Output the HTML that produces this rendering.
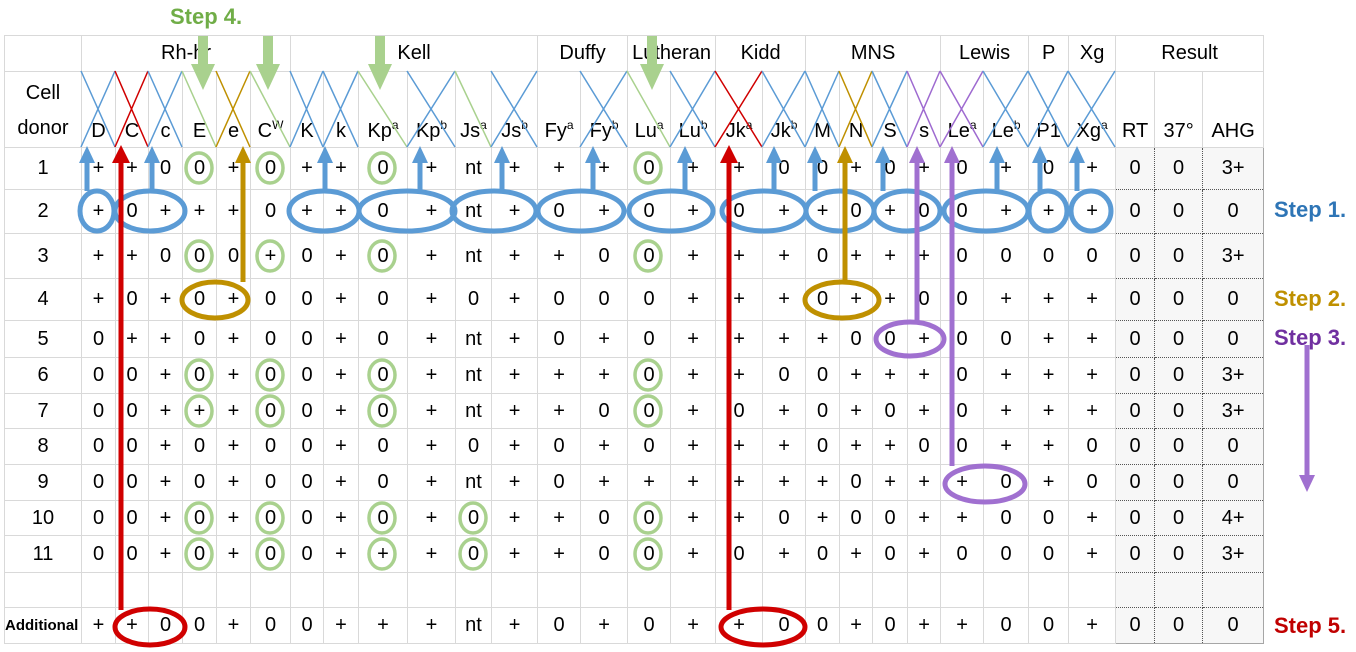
<!DOCTYPE html>
<html><head><meta charset="utf-8">
<style>
html,body{margin:0;padding:0;background:#fff;}
body{width:1356px;height:652px;position:relative;overflow:hidden;font-family:"Liberation Sans",sans-serif;}
table{position:absolute;left:4px;top:35px;border-collapse:collapse;table-layout:fixed;width:1259px;border:1px solid #a6a6a6;}
td{border:1px solid #d9d9d9;text-align:center;vertical-align:middle;font-size:20px;color:#000;padding:0;white-space:nowrap;overflow:visible;}
td.r{background:#f7f7f7;border:1px dotted #555;}
tr.h2 td{vertical-align:bottom;padding-bottom:4px;}
sup{font-size:12px;vertical-align:top;position:relative;top:-2px;}
.add{font-size:15px;font-weight:bold;text-align:left;}
svg{position:absolute;left:0;top:0;}
.st{position:absolute;font-weight:bold;font-size:22px;}
</style></head><body>
<table>
<colgroup>
<col style="width:77px"><col style="width:34px"><col style="width:33px"><col style="width:34px"><col style="width:34px"><col style="width:34px"><col style="width:40px"><col style="width:33px"><col style="width:35px"><col style="width:49px"><col style="width:48px"><col style="width:36px"><col style="width:46px"><col style="width:43px"><col style="width:47px"><col style="width:43px"><col style="width:45px"><col style="width:47px"><col style="width:43px"><col style="width:34px"><col style="width:33px"><col style="width:35px"><col style="width:33px"><col style="width:43px"><col style="width:45px"><col style="width:40px"><col style="width:47px"><col style="width:39px"><col style="width:48px"><col style="width:61px">
</colgroup>
<tr style="height:36px"><td></td><td colspan="6">Rh-hr</td><td colspan="6">Kell</td><td colspan="2">Duffy</td><td colspan="2">Lutheran</td><td colspan="2">Kidd</td><td colspan="4">MNS</td><td colspan="2">Lewis</td><td>P</td><td>Xg</td><td colspan="3">Result</td></tr>
<tr class="h2" style="height:76px"><td style="line-height:35px;padding-bottom:1px">Cell<br>donor</td><td>D</td><td>C</td><td>c</td><td>E</td><td>e</td><td>C<sup>W</sup></td><td>K</td><td>k</td><td>Kp<sup>a</sup></td><td>Kp<sup>b</sup></td><td>Js<sup>a</sup></td><td>Js<sup>b</sup></td><td>Fy<sup>a</sup></td><td>Fy<sup>b</sup></td><td>Lu<sup>a</sup></td><td>Lu<sup>b</sup></td><td>Jk<sup>a</sup></td><td>Jk<sup>b</sup></td><td>M</td><td>N</td><td>S</td><td>s</td><td>Le<sup>a</sup></td><td>Le<sup>b</sup></td><td>P1</td><td>Xg<sup>a</sup></td><td>RT</td><td>37°</td><td>AHG</td></tr>
<tr style="height:42px"><td>1</td><td>+</td><td>+</td><td>0</td><td>0</td><td>+</td><td>0</td><td>+</td><td>+</td><td>0</td><td>+</td><td>nt</td><td>+</td><td>+</td><td>+</td><td>0</td><td>+</td><td>+</td><td>0</td><td>0</td><td>+</td><td>0</td><td>+</td><td>0</td><td>+</td><td>0</td><td>+</td><td class="r">0</td><td class="r">0</td><td class="r">3+</td></tr>
<tr style="height:44px"><td>2</td><td>+</td><td>0</td><td>+</td><td>+</td><td>+</td><td>0</td><td>+</td><td>+</td><td>0</td><td>+</td><td>nt</td><td>+</td><td>0</td><td>+</td><td>0</td><td>+</td><td>0</td><td>+</td><td>+</td><td>0</td><td>+</td><td>0</td><td>0</td><td>+</td><td>+</td><td>+</td><td class="r">0</td><td class="r">0</td><td class="r">0</td></tr>
<tr style="height:45px"><td>3</td><td>+</td><td>+</td><td>0</td><td>0</td><td>0</td><td>+</td><td>0</td><td>+</td><td>0</td><td>+</td><td>nt</td><td>+</td><td>+</td><td>0</td><td>0</td><td>+</td><td>+</td><td>+</td><td>0</td><td>+</td><td>+</td><td>+</td><td>0</td><td>0</td><td>0</td><td>0</td><td class="r">0</td><td class="r">0</td><td class="r">3+</td></tr>
<tr style="height:42px"><td>4</td><td>+</td><td>0</td><td>+</td><td>0</td><td>+</td><td>0</td><td>0</td><td>+</td><td>0</td><td>+</td><td>0</td><td>+</td><td>0</td><td>0</td><td>0</td><td>+</td><td>+</td><td>+</td><td>0</td><td>+</td><td>+</td><td>0</td><td>0</td><td>+</td><td>+</td><td>+</td><td class="r">0</td><td class="r">0</td><td class="r">0</td></tr>
<tr style="height:37px"><td>5</td><td>0</td><td>+</td><td>+</td><td>0</td><td>+</td><td>0</td><td>0</td><td>+</td><td>0</td><td>+</td><td>nt</td><td>+</td><td>0</td><td>+</td><td>0</td><td>+</td><td>+</td><td>+</td><td>+</td><td>0</td><td>0</td><td>+</td><td>0</td><td>0</td><td>+</td><td>+</td><td class="r">0</td><td class="r">0</td><td class="r">0</td></tr>
<tr style="height:36px"><td>6</td><td>0</td><td>0</td><td>+</td><td>0</td><td>+</td><td>0</td><td>0</td><td>+</td><td>0</td><td>+</td><td>nt</td><td>+</td><td>+</td><td>+</td><td>0</td><td>+</td><td>+</td><td>0</td><td>0</td><td>+</td><td>+</td><td>+</td><td>0</td><td>+</td><td>+</td><td>+</td><td class="r">0</td><td class="r">0</td><td class="r">3+</td></tr>
<tr style="height:35px"><td>7</td><td>0</td><td>0</td><td>+</td><td>+</td><td>+</td><td>0</td><td>0</td><td>+</td><td>0</td><td>+</td><td>nt</td><td>+</td><td>+</td><td>0</td><td>0</td><td>+</td><td>0</td><td>+</td><td>0</td><td>+</td><td>0</td><td>+</td><td>0</td><td>+</td><td>+</td><td>+</td><td class="r">0</td><td class="r">0</td><td class="r">3+</td></tr>
<tr style="height:36px"><td>8</td><td>0</td><td>0</td><td>+</td><td>0</td><td>+</td><td>0</td><td>0</td><td>+</td><td>0</td><td>+</td><td>0</td><td>+</td><td>0</td><td>+</td><td>0</td><td>+</td><td>+</td><td>+</td><td>0</td><td>+</td><td>+</td><td>0</td><td>0</td><td>+</td><td>+</td><td>0</td><td class="r">0</td><td class="r">0</td><td class="r">0</td></tr>
<tr style="height:36px"><td>9</td><td>0</td><td>0</td><td>+</td><td>0</td><td>+</td><td>0</td><td>0</td><td>+</td><td>0</td><td>+</td><td>nt</td><td>+</td><td>0</td><td>+</td><td>+</td><td>+</td><td>+</td><td>+</td><td>+</td><td>0</td><td>+</td><td>+</td><td>+</td><td>0</td><td>+</td><td>0</td><td class="r">0</td><td class="r">0</td><td class="r">0</td></tr>
<tr style="height:35px"><td>10</td><td>0</td><td>0</td><td>+</td><td>0</td><td>+</td><td>0</td><td>0</td><td>+</td><td>0</td><td>+</td><td>0</td><td>+</td><td>+</td><td>0</td><td>0</td><td>+</td><td>+</td><td>0</td><td>+</td><td>0</td><td>0</td><td>+</td><td>+</td><td>0</td><td>0</td><td>+</td><td class="r">0</td><td class="r">0</td><td class="r">4+</td></tr>
<tr style="height:37px"><td>11</td><td>0</td><td>0</td><td>+</td><td>0</td><td>+</td><td>0</td><td>0</td><td>+</td><td>+</td><td>+</td><td>0</td><td>+</td><td>+</td><td>0</td><td>0</td><td>+</td><td>0</td><td>+</td><td>0</td><td>+</td><td>0</td><td>+</td><td>0</td><td>0</td><td>0</td><td>+</td><td class="r">0</td><td class="r">0</td><td class="r">3+</td></tr>
<tr style="height:35px"><td></td><td></td><td></td><td></td><td></td><td></td><td></td><td></td><td></td><td></td><td></td><td></td><td></td><td></td><td></td><td></td><td></td><td></td><td></td><td></td><td></td><td></td><td></td><td></td><td></td><td></td><td></td><td class="r"></td><td class="r"></td><td class="r"></td></tr>
<tr style="height:36px"><td class="add">Additional</td><td>+</td><td>+</td><td>0</td><td>0</td><td>+</td><td>0</td><td>0</td><td>+</td><td>+</td><td>+</td><td>nt</td><td>+</td><td>0</td><td>+</td><td>0</td><td>+</td><td>+</td><td>0</td><td>0</td><td>+</td><td>0</td><td>+</td><td>+</td><td>0</td><td>0</td><td>+</td><td class="r">0</td><td class="r">0</td><td class="r">0</td></tr>
</table>

<svg width="1356" height="652" viewBox="0 0 1356 652">
<g stroke-width="1.5" fill="none">
<path d="M81 71L115 147M115 71L81 147" stroke="#5b9bd5"/>
<path d="M115 71L148 147M148 71L115 147" stroke="#d00000"/>
<path d="M148 71L182 147M182 71L148 147" stroke="#5b9bd5"/>
<path d="M182 71L216 147" stroke="#a9d18e"/>
<path d="M216 71L250 147M250 71L216 147" stroke="#bf9000"/>
<path d="M250 71L290 147" stroke="#a9d18e"/>
<path d="M290 71L323 147M323 71L290 147M323 71L358 147M358 71L323 147" stroke="#5b9bd5"/>
<path d="M358 71L407 147" stroke="#a9d18e"/>
<path d="M407 71L455 147M455 71L407 147" stroke="#5b9bd5"/>
<path d="M455 71L491 147" stroke="#a9d18e"/>
<path d="M491 71L537 147M537 71L491 147" stroke="#5b9bd5"/>
<path d="M580 71L627 147M627 71L580 147" stroke="#5b9bd5"/>
<path d="M627 71L670 147" stroke="#a9d18e"/>
<path d="M670 71L715 147M715 71L670 147" stroke="#5b9bd5"/>
<path d="M715 71L762 147M762 71L715 147" stroke="#d00000"/>
<path d="M762 71L805 147M805 71L762 147M805 71L839 147M839 71L805 147" stroke="#5b9bd5"/>
<path d="M839 71L872 147M872 71L839 147" stroke="#bf9000"/>
<path d="M872 71L907 147M907 71L872 147" stroke="#5b9bd5"/>
<path d="M907 71L940 147M940 71L907 147M940 71L983 147M983 71L940 147" stroke="#9e6ad0"/>
<path d="M983 71L1028 147M1028 71L983 147M1028 71L1068 147M1068 71L1028 147M1068 71L1115 147M1115 71L1068 147" stroke="#5b9bd5"/>
</g>
<g fill="none" stroke="#a9d18e" stroke-width="3.5">
<ellipse cx="199" cy="168" rx="13" ry="15"/><ellipse cx="270" cy="168" rx="13" ry="15"/><ellipse cx="382" cy="168" rx="13" ry="15"/><ellipse cx="648" cy="168" rx="13" ry="15"/>
<ellipse cx="199" cy="256" rx="13" ry="15"/><ellipse cx="270" cy="256" rx="13" ry="15"/><ellipse cx="382" cy="256" rx="13" ry="15"/><ellipse cx="648" cy="256" rx="13" ry="15"/>
<ellipse cx="199" cy="375" rx="13" ry="15"/><ellipse cx="270" cy="375" rx="13" ry="15"/><ellipse cx="382" cy="375" rx="13" ry="15"/><ellipse cx="648" cy="375" rx="13" ry="15"/>
<ellipse cx="199" cy="411" rx="13" ry="15"/><ellipse cx="270" cy="411" rx="13" ry="15"/><ellipse cx="382" cy="411" rx="13" ry="15"/><ellipse cx="648" cy="411" rx="13" ry="15"/>
<ellipse cx="199" cy="518" rx="13" ry="15"/><ellipse cx="270" cy="518" rx="13" ry="15"/><ellipse cx="382" cy="518" rx="13" ry="15"/><ellipse cx="473" cy="518" rx="13" ry="15"/><ellipse cx="648" cy="518" rx="13" ry="15"/>
<ellipse cx="199" cy="554" rx="13" ry="15"/><ellipse cx="270" cy="554" rx="13" ry="15"/><ellipse cx="382" cy="554" rx="13" ry="15"/><ellipse cx="473" cy="554" rx="13" ry="15"/><ellipse cx="648" cy="554" rx="13" ry="15"/>
</g>
<g fill="none" stroke="#5b9bd5" stroke-width="5">
<ellipse cx="97" cy="211" rx="17" ry="20"/><ellipse cx="150" cy="211" rx="35" ry="20"/><ellipse cx="324" cy="211" rx="35" ry="20"/><ellipse cx="407" cy="211" rx="48" ry="20"/><ellipse cx="494" cy="211" rx="42" ry="20"/><ellipse cx="581" cy="211" rx="43" ry="20"/><ellipse cx="671" cy="211" rx="42" ry="20"/><ellipse cx="764" cy="211" rx="42" ry="20"/><ellipse cx="840" cy="211" rx="34" ry="20"/><ellipse cx="907" cy="211" rx="33" ry="20"/><ellipse cx="986" cy="211" rx="42" ry="20"/><ellipse cx="1048" cy="211" rx="19" ry="20"/><ellipse cx="1091" cy="211" rx="20" ry="20"/>
<path d="M87 191V160M152 191V160M325 191V160M420 191V160M502 191V160M593 191V160M685 191V160M774 191V160M815 191V160M883 191V160M997 191V160M1040 191V160M1077 191V160"/>
</g>
<g fill="#5b9bd5">
<path d="M79 163L87 146L95 163Z"/><path d="M144 163L152 146L160 163Z"/><path d="M317 163L325 146L333 163Z"/><path d="M412 163L420 146L428 163Z"/><path d="M494 163L502 146L510 163Z"/><path d="M585 163L593 146L601 163Z"/><path d="M677 163L685 146L693 163Z"/><path d="M766 163L774 146L782 163Z"/><path d="M807 163L815 146L823 163Z"/><path d="M875 163L883 146L891 163Z"/><path d="M989 163L997 146L1005 163Z"/><path d="M1032 163L1040 146L1048 163Z"/><path d="M1069 163L1077 146L1085 163Z"/>
</g>
<g fill="none" stroke="#d00000" stroke-width="5">
<ellipse cx="150" cy="627" rx="35" ry="18"/><ellipse cx="763" cy="627" rx="42" ry="18"/>
<path d="M121 610V160M729 610V160"/>
</g>
<g fill="#d00000"><path d="M112 163L121 145L130 163Z"/><path d="M720 163L729 145L738 163Z"/></g>
<g fill="none" stroke="#bf9000" stroke-width="5">
<ellipse cx="215" cy="300" rx="33" ry="18"/><ellipse cx="842" cy="300" rx="37" ry="18"/>
<path d="M243 282V160M845 282V160"/>
</g>
<g fill="#bf9000"><path d="M235 163L243 146L251 163Z"/><path d="M837 163L845 146L853 163Z"/></g>
<g fill="none" stroke="#a070d0" stroke-width="5">
<ellipse cx="910" cy="339" rx="34" ry="17"/><ellipse cx="985" cy="484" rx="40" ry="18"/>
<path d="M917 322V160M952 466V160M1307 345V478"/>
</g>
<g fill="#a070d0"><path d="M909 163L917 146L925 163Z"/><path d="M944 163L952 146L960 163Z"/><path d="M1299 475L1307 492L1315 475Z"/></g>
<g fill="#a9d18e">
<rect x="198" y="36" width="10" height="28"/><path d="M191 64L215 64L203 90Z"/>
<rect x="263" y="36" width="10" height="28"/><path d="M256 64L280 64L268 90Z"/>
<rect x="375" y="36" width="10" height="28"/><path d="M368 64L392 64L380 90Z"/>
<rect x="647" y="36" width="10" height="28"/><path d="M640 64L664 64L652 90Z"/>
</g>
</svg>
<div class="st" style="left:170px;top:4px;color:#70ad47">Step 4.</div>
<div class="st" style="left:1274px;top:197px;color:#2e75b6">Step 1.</div>
<div class="st" style="left:1274px;top:286px;color:#bf9000">Step 2.</div>
<div class="st" style="left:1274px;top:325px;color:#7030a0">Step 3.</div>
<div class="st" style="left:1274px;top:613px;color:#c00000">Step 5.</div>
</body></html>
